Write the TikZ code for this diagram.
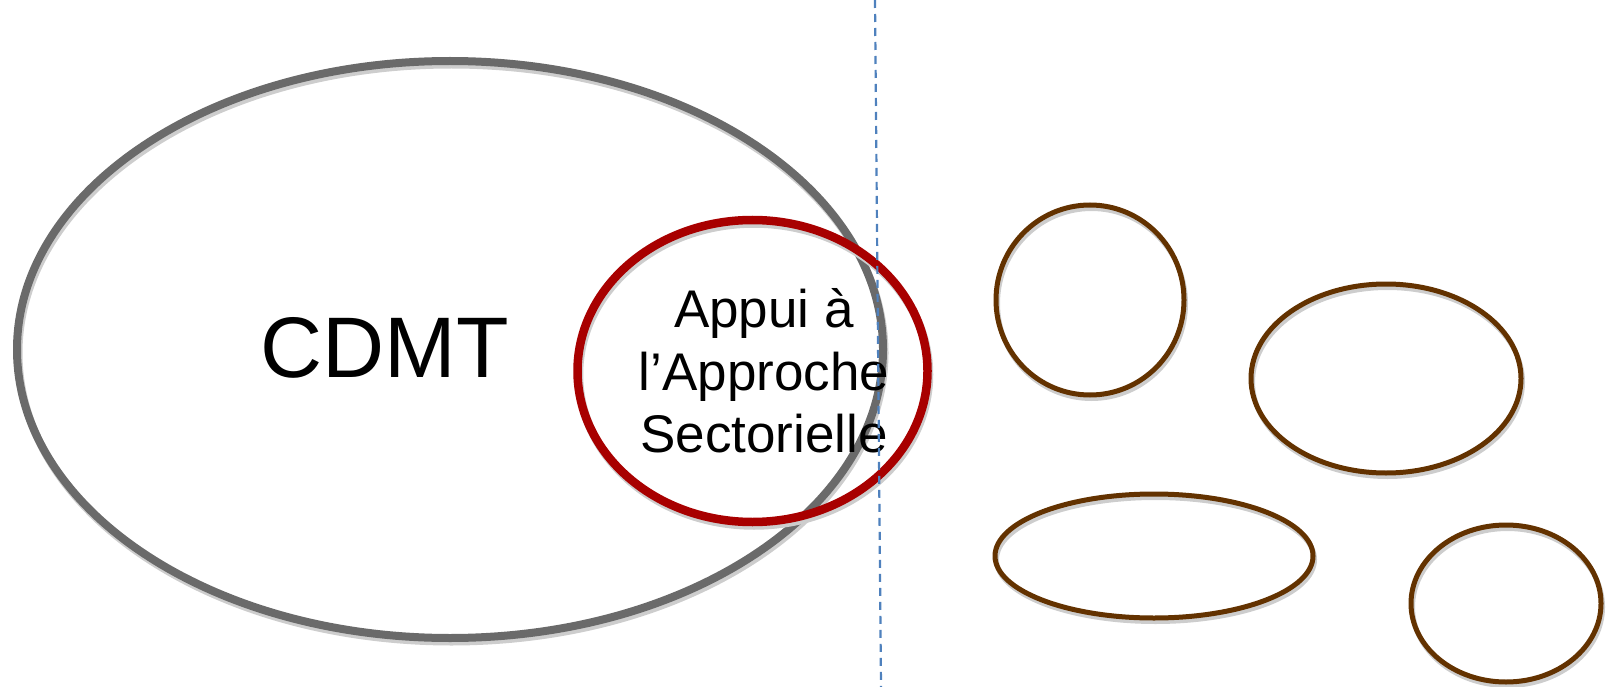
\documentclass[tikz,border=0pt]{standalone}
\usepackage{fontspec}
\setmainfont{Liberation Sans}
\usetikzlibrary{shapes.geometric}
\definecolor{cdmtgray}{RGB}{106,106,106}
\definecolor{aasred}{RGB}{168,0,0}
\definecolor{ovbrown}{RGB}{99,50,0}
\definecolor{shcol}{RGB}{205,205,205}
\definecolor{dashblue}{RGB}{79,129,189}
\tikzset{
  shad/.style={preaction={draw=shcol, transform canvas={xshift=1.5pt, yshift=-3.5pt}}},
  oval/.style={ellipse, inner sep=0pt, outer sep=0pt, shad},
  bigoval/.style={oval, draw=cdmtgray, line width=8pt},
  redoval/.style={oval, draw=aasred, line width=8.5pt},
  brownoval/.style={oval, draw=ovbrown, line width=5pt},
  dashline/.style={draw=dashblue, line width=2.2pt, dash pattern=on 8pt off 6pt},
}
\begin{document}
\begin{tikzpicture}[x=1pt,y=-1pt]
\useasboundingbox (0,0) rectangle (1608,687);
\node[bigoval, minimum width=866pt, minimum height=577pt] (cdmt) at (450,349.5) {};
\node[redoval, minimum width=350pt, minimum height=302pt] (aas) at (752.5,371) {};
\node[anchor=base, font=\fontsize{86}{100}\selectfont, inner sep=0pt] (cdmtlabel) at (385,377) {CDMT};
\node[align=center, font=\fontsize{53}{62.5}\selectfont, inner sep=0pt] (aaslabel) at (764,371) {Appui à\\l’Approche\\Sectorielle};
\node[brownoval, minimum width=188pt, minimum height=190pt] (o1) at (1090,300) {};
\node[brownoval, minimum width=270pt, minimum height=189pt] (o2) at (1386,378.5) {};
\node[brownoval, minimum width=318pt, minimum height=124pt] (o3) at (1154,556) {};
\node[brownoval, minimum width=190pt, minimum height=157pt] (o4) at (1506,603.5) {};
\coordinate (dtop) at (875,0);
\coordinate (dbot) at (881,687);
\draw[dashline] (dtop) -- (dbot);
\end{tikzpicture}
\end{document}
